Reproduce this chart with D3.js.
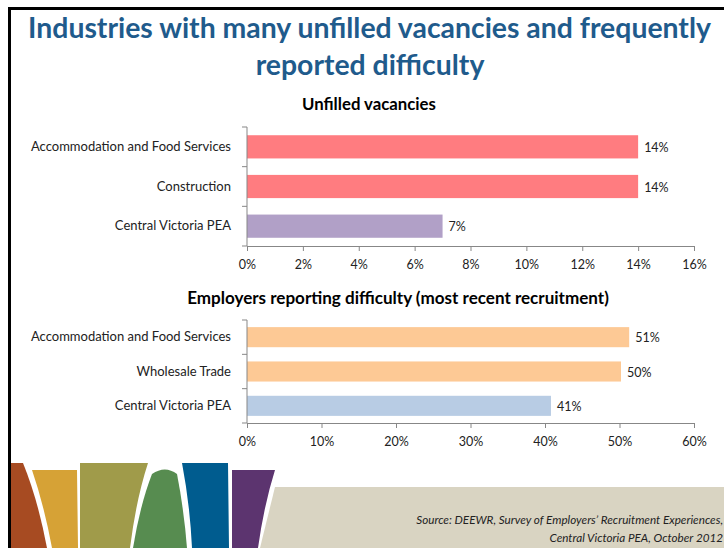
<!DOCTYPE html>
<html>
<head>
<meta charset="utf-8">
<script src="https://cdnjs.cloudflare.com/ajax/libs/d3/7.8.5/d3.min.js"></script>
<style>
  body { margin: 0; background: #fff; }
  svg { display: block; font-family: Lato, "Open Sans", sans-serif; }
</style>
</head>
<body>
<svg width="724" height="548"></svg>
<script>
// chart data
var vacCategories = ["Accommodation and Food Services", "Construction", "Central Victoria PEA"];
var vacValues = [14, 14, 7];
var vacLabels = ["14%", "14%", "7%"];
var vacTicks = [0, 2, 4, 6, 8, 10, 12, 14, 16];

var diffCategories = ["Accommodation and Food Services", "Wholesale Trade", "Central Victoria PEA"];
var diffValues = [51.3, 50.2, 40.8];
var diffLabels = ["51%", "50%", "41%"];
var diffTicks = [0, 10, 20, 30, 40, 50, 60];

var svg = d3.select("svg");

// size a text so it spans a given width
function fitText(sel, width) {
  var base = +sel.attr("font-size");
  var fs = base * width / sel.node().getComputedTextLength();
  sel.attr("font-size", fs);
  return fs;
}

// slide frame
svg.append("line").attr("x1", 8).attr("x2", 724).attr("y1", 8.5).attr("y2", 8.5)
  .attr("stroke", "#000").attr("stroke-width", 3);
svg.append("line").attr("x1", 9.5).attr("x2", 9.5).attr("y1", 7).attr("y2", 548)
  .attr("stroke", "#000").attr("stroke-width", 3);

// title
var t1 = svg.append("text").attr("x", 369.5).attr("y", 38)
  .attr("text-anchor", "middle").attr("font-weight", "bold")
  .attr("fill", "#1f5b8c").attr("font-size", 26)
  .text("Industries with many unfilled vacancies and frequently");
var fs = fitText(t1, 683);
svg.append("text").attr("x", 370).attr("y", 75)
  .attr("text-anchor", "middle").attr("font-weight", "bold")
  .attr("fill", "#1f5b8c").attr("font-size", fs)
  .text("reported difficulty");

function drawChart(opts) {
  var x = d3.scaleLinear().domain(opts.domain).range([247, 694]);
  var y = d3.scaleBand().domain(opts.categories).range(opts.yRange)
    .paddingInner(0.415).paddingOuter(0.2075);
  var g = svg.append("g");

  var tt = svg.append("text").attr("x", opts.titleX).attr("y", opts.titleY)
    .attr("text-anchor", "middle").attr("font-weight", "bold")
    .attr("font-size", 15).attr("fill", "#000")
    .text(opts.title);
  fitText(tt, opts.titleWidth);

  // bars
  g.selectAll(".bar").data(opts.values).enter().append("rect")
    .attr("x", x(0))
    .attr("y", function (d, i) { return y(opts.categories[i]); })
    .attr("width", function (d) { return x(d) - x(0); })
    .attr("height", y.bandwidth())
    .attr("fill", function (d, i) { return opts.colors[i]; });

  // value labels
  g.selectAll(".val").data(opts.values).enter().append("text")
    .attr("x", function (d) { return x(d) + 6; })
    .attr("y", function (d, i) { return y(opts.categories[i]) + y.bandwidth() / 2; })
    .attr("dy", "0.4em").attr("font-size", 12.5).attr("fill", "#222")
    .text(function (d, i) { return opts.labels[i]; });

  // x axis
  var xAxis = g.append("g")
    .attr("transform", "translate(0," + opts.yRange[1] + ")")
    .call(d3.axisBottom(x).tickValues(opts.ticks).tickSize(5).tickPadding(9)
      .tickFormat(function (d) { return d + "%"; }));
  xAxis.select(".domain").attr("stroke", "#878787");
  xAxis.selectAll(".tick line").attr("stroke", "#878787");
  xAxis.selectAll("text").attr("font-size", 12.5).attr("fill", "#222")
    .attr("font-family", "Lato, sans-serif");

  // y axis with boundary ticks
  var yAxis = g.append("g").attr("transform", "translate(247,0)")
    .call(d3.axisLeft(y).tickSize(0).tickPadding(16));
  yAxis.select(".domain").remove();
  yAxis.selectAll("text").attr("font-size", 13).attr("fill", "#222")
    .attr("font-family", "Lato, sans-serif");
  g.append("line").attr("x1", 247).attr("x2", 247)
    .attr("y1", opts.yRange[0]).attr("y2", opts.yRange[1]).attr("stroke", "#878787");
  var bounds = [opts.yRange[0]].concat(opts.categories.map(function (c) { return y(c) - y.step() * y.paddingInner() / 2 + y.step(); }));
  g.selectAll(".ytick").data(bounds).enter().append("line")
    .attr("x1", 242).attr("x2", 247)
    .attr("y1", function (d) { return d; }).attr("y2", function (d) { return d; })
    .attr("stroke", "#878787");
}

drawChart({
  title: "Unfilled vacancies", titleX: 369, titleY: 110, titleWidth: 134,
  categories: vacCategories, values: vacValues, labels: vacLabels, ticks: vacTicks,
  domain: [0, 16], yRange: [127, 246],
  colors: ["#ff7c80", "#ff7c80", "#b1a0c7"]
});

drawChart({
  title: "Employers reporting difficulty (most recent recruitment)", titleX: 398, titleY: 304, titleWidth: 422,
  categories: diffCategories, values: diffValues, labels: diffLabels, ticks: diffTicks,
  domain: [0, 60], yRange: [320, 423],
  colors: ["#fdc995", "#fdc995", "#b8cce4"]
});

// footer decoration
var footer = svg.append("g");
footer.append("path").attr("fill", "#d9d4c2")
  .attr("d", "M275,487 L724,487 L724,548 L260,548 Z");
var shapes = [
  { c: "#a74b22", d: "M11,463 L23,463 Q38,500 47,548 L11,548 Z" },
  { c: "#d6a236", d: "M32,470 L77,470 L78,548 L52,548 Q44,505 32,470 Z" },
  { c: "#a09b4a", d: "M80,463 L148,463 Q136,500 130,548 L80,548 Z" },
  { c: "#578c50", d: "M152,474 Q165,465 177,474 Q184,510 187,548 L133,548 Q140,505 152,474 Z" },
  { c: "#005c8f", d: "M182,463 L228,463 L229,548 L192,548 Q190,505 182,463 Z" },
  { c: "#5c346f", d: "M232,470 L275,470 Q264,505 258,548 L232,548 Z" }
];
footer.selectAll(".deco").data(shapes).enter().append("path")
  .attr("d", function (d) { return d.d; })
  .attr("fill", function (d) { return d.c; });

footer.append("text").attr("x", 723).attr("y", 524).attr("text-anchor", "end")
  .attr("font-style", "italic").attr("font-size", 11.7).attr("fill", "#222")
  .text("Source:  DEEWR, Survey of Employers\u2019 Recruitment Experiences,");
footer.append("text").attr("x", 723).attr("y", 542).attr("text-anchor", "end")
  .attr("font-style", "italic").attr("font-size", 11.7).attr("fill", "#222")
  .text("Central Victoria PEA, October 2012");
</script>
</body>
</html>
